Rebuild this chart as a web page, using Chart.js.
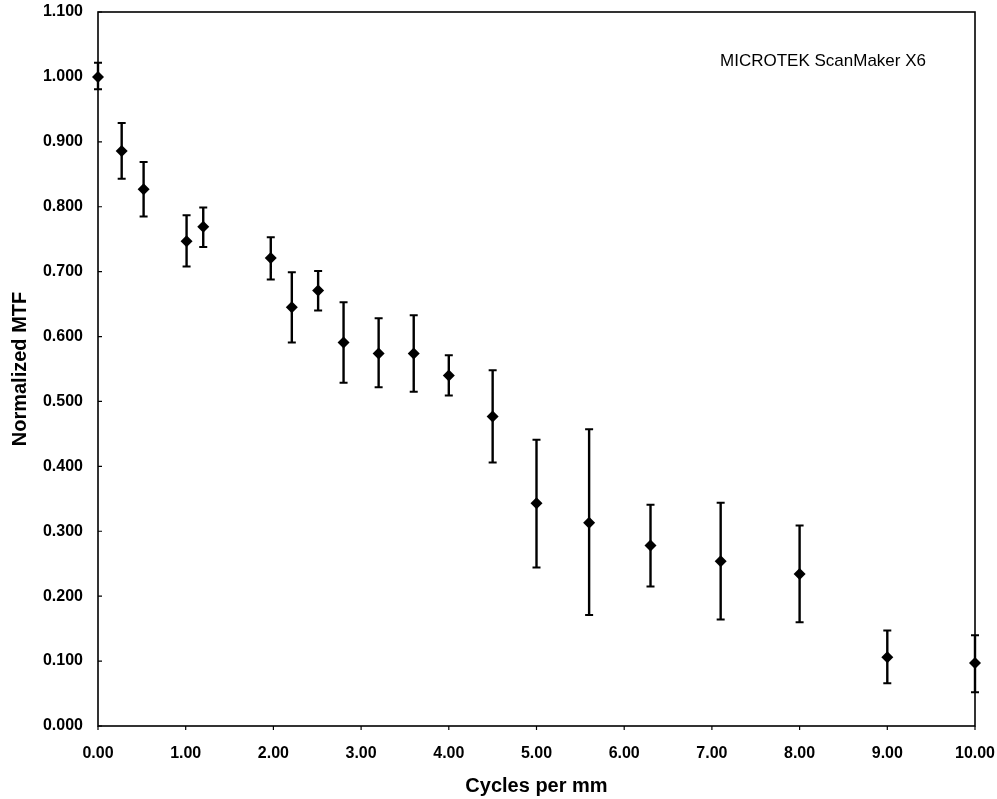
<!DOCTYPE html>
<html>
<head>
<meta charset="utf-8">
<script src="https://cdn.jsdelivr.net/npm/chart.js@4.4.0/dist/chart.umd.min.js"></script>
<style>
  html, body { margin: 0; padding: 0; background: #fff; }
  #wrap { width: 997px; height: 799px; }
</style>
</head>
<body>
<div id="wrap"><canvas id="mtfChart" width="997" height="799"></canvas></div>
<script>
// spatial frequency (cycles per mm)
const cycles = [0.00, 0.27, 0.52, 1.01, 1.20, 1.97, 2.21, 2.51, 2.80, 3.20, 3.60, 4.00, 4.50, 5.00, 5.60, 6.30, 7.10, 8.00, 9.00, 10.00];
// normalized MTF
const mtf = [1.000, 0.886, 0.827, 0.747, 0.769, 0.721, 0.645, 0.671, 0.591, 0.574, 0.574, 0.540, 0.477, 0.343, 0.313, 0.278, 0.254, 0.234, 0.106, 0.097];
// error bar ends
const mtfHigh = [1.022, 0.929, 0.869, 0.787, 0.799, 0.753, 0.699, 0.701, 0.653, 0.628, 0.633, 0.571, 0.548, 0.441, 0.457, 0.341, 0.344, 0.309, 0.147, 0.140];
const mtfLow = [0.981, 0.843, 0.785, 0.708, 0.738, 0.688, 0.591, 0.640, 0.529, 0.522, 0.515, 0.509, 0.406, 0.244, 0.171, 0.215, 0.164, 0.160, 0.066, 0.052];

const annotationText = 'MICROTEK ScanMaker X6';

const points = cycles.map((c, i) => ({ x: c, y: mtf[i] }));

// frame, tick marks, error bars and the scanner label
const mtfExtras = {
    id: 'mtfExtras',
    beforeDatasetsDraw(chart) {
        const { ctx, chartArea: a, scales } = chart;
        const xs = scales.x, ys = scales.y;
        ctx.save();
        ctx.strokeStyle = '#000';
        ctx.lineWidth = 1.6;
        ctx.strokeRect(a.left, a.top, a.right - a.left, a.bottom - a.top);

        // small ticks: x outward, y inward
        ctx.lineWidth = 1.2;
        ctx.beginPath();
        xs.ticks.forEach(t => {
            const px = xs.getPixelForValue(t.value);
            ctx.moveTo(px, a.bottom);
            ctx.lineTo(px, a.bottom + 4);
        });
        ys.ticks.forEach(t => {
            const py = ys.getPixelForValue(t.value);
            ctx.moveTo(a.left, py);
            ctx.lineTo(a.left + 4, py);
        });
        ctx.stroke();

        // error bars
        ctx.lineWidth = 2.4;
        ctx.beginPath();
        cycles.forEach((c, i) => {
            const px = xs.getPixelForValue(c);
            const hi = ys.getPixelForValue(mtfHigh[i]);
            const lo = ys.getPixelForValue(mtfLow[i]);
            ctx.moveTo(px, hi);
            ctx.lineTo(px, lo);
        });
        ctx.stroke();
        ctx.lineWidth = 2;
        ctx.beginPath();
        cycles.forEach((c, i) => {
            const px = xs.getPixelForValue(c);
            [mtfHigh[i], mtfLow[i]].forEach(v => {
                const py = ys.getPixelForValue(v);
                ctx.moveTo(px - 4, py);
                ctx.lineTo(px + 4, py);
            });
        });
        ctx.stroke();

        ctx.fillStyle = '#000';
        ctx.font = '17px "Liberation Sans", Arial, sans-serif';
        ctx.textAlign = 'center';
        ctx.textBaseline = 'middle';
        ctx.fillText(annotationText, a.right - 152, a.top + 49);
        ctx.restore();
    }
};

new Chart(document.getElementById('mtfChart'), {
    type: 'scatter',
    data: {
        datasets: [{
            label: 'MTF',
            data: points,
            pointStyle: 'rectRot',
            pointRadius: 6,
            pointHoverRadius: 6,
            backgroundColor: '#000',
            borderColor: '#000',
            borderWidth: 0,
            clip: false
        }]
    },
    options: {
        responsive: false,
        animation: false,
        layout: { padding: 0 },
        plugins: {
            legend: { display: false },
            tooltip: { enabled: false }
        },
        scales: {
            x: {
                type: 'linear',
                min: 0,
                max: 10,
                border: { display: false },
                grid: { display: false, drawTicks: false },
                ticks: {
                    stepSize: 1,
                    padding: 18,
                    color: '#000',
                    font: { family: '"Liberation Sans", Arial, sans-serif', size: 16, weight: 'bold' },
                    callback: v => v.toFixed(2),
                    maxRotation: 0
                },
                title: {
                    display: true,
                    text: 'Cycles per mm',
                    color: '#000',
                    font: { family: '"Liberation Sans", Arial, sans-serif', size: 20, weight: 'bold' },
                    padding: { top: 0, bottom: 1 }
                },
                afterFit: s => {
                    s.height = 73;
                    s.paddingLeft = 0;
                    s.paddingRight = 22;
                }
            },
            y: {
                min: 0,
                max: 1.1,
                border: { display: false },
                grid: { display: false, drawTicks: false },
                ticks: {
                    stepSize: 0.1,
                    padding: 15,
                    color: '#000',
                    font: { family: '"Liberation Sans", Arial, sans-serif', size: 16, weight: 'bold' },
                    callback: v => v.toFixed(3)
                },
                title: {
                    display: true,
                    text: 'Normalized MTF',
                    color: '#000',
                    font: { family: '"Liberation Sans", Arial, sans-serif', size: 20, weight: 'bold' },
                    padding: { top: 8, bottom: 0 }
                },
                afterFit: s => {
                    s.width = 98;
                    s.paddingTop = 12;
                    s.paddingBottom = 0;
                }
            }
        }
    },
    plugins: [mtfExtras]
});
</script>
</body>
</html>
